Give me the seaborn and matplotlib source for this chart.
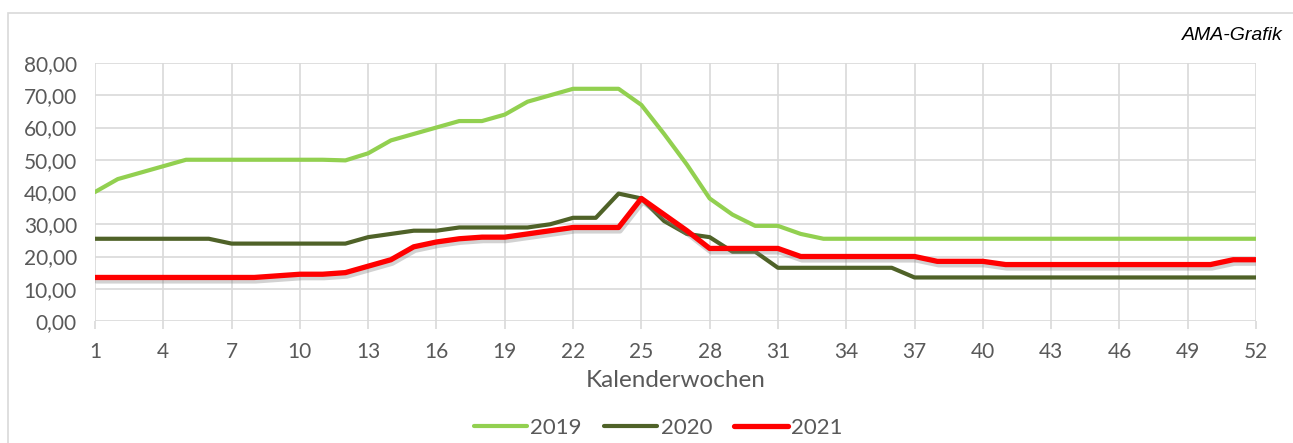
import matplotlib
matplotlib.use("Agg")
import matplotlib.pyplot as plt
import matplotlib.patheffects as pe
import seaborn as sns
import pandas as pd

weeks = list(range(1, 53))
y2019 = [40, 44, 46, 48, 50, 50, 50, 50, 50, 50, 50, 49.8, 52, 56, 58, 60, 62, 62, 64, 68,
         70, 72, 72, 72, 67, 58, 48.5, 38, 33, 29.5, 29.5, 27, 25.5, 25.5, 25.5, 25.5, 25.5, 25.5,
         25.5, 25.5, 25.5, 25.5, 25.5, 25.5, 25.5, 25.5, 25.5, 25.5, 25.5, 25.5, 25.5, 25.5]
y2020 = [25.5, 25.5, 25.5, 25.5, 25.5, 25.5, 24, 24, 24, 24, 24, 24, 26, 27, 28, 28, 29, 29, 29, 29,
         30, 32, 32, 39.5, 38, 31, 27, 26, 21.5, 21.5, 16.5, 16.5, 16.5, 16.5, 16.5, 16.5, 13.5, 13.5,
         13.5, 13.5, 13.5, 13.5, 13.5, 13.5, 13.5, 13.5, 13.5, 13.5, 13.5, 13.5, 13.5, 13.5]
y2021 = [13.5, 13.5, 13.5, 13.5, 13.5, 13.5, 13.5, 13.5, 14, 14.5, 14.5, 15, 17, 19, 23, 24.5, 25.5, 26, 26, 27,
         28, 29, 29, 29, 38, 33, 28, 22.5, 22.5, 22.5, 22.5, 20, 20, 20, 20, 20, 20, 18.5,
         18.5, 18.5, 17.5, 17.5, 17.5, 17.5, 17.5, 17.5, 17.5, 17.5, 17.5, 17.5, 19, 19]
series_names = ["2019", "2020", "2021"]
colors = {"2019": "#92D050", "2020": "#4F6228", "2021": "#FF0000"}
widths = {"2019": 3.0, "2020": 3.0, "2021": 3.8}

df = pd.DataFrame({"week": weeks * 3,
                   "value": y2019 + y2020 + y2021,
                   "year": sum([[n] * len(weeks) for n in series_names], [])})

sns.set_theme(style="white")
plt.rcParams['font.family'] = ['Lato', 'DejaVu Sans']

fig = plt.figure(figsize=(12.93, 4.43), dpi=100)
ax = fig.add_axes([95/1293, 1 - 321/443, (1256 - 95)/1293, (321 - 63)/443])

for n in series_names:
    sub = df[df["year"] == n]
    sns.lineplot(data=sub, x="week", y="value", ax=ax, color=colors[n],
                 linewidth=widths[n], label=n, solid_capstyle="round")
# soft shadow on red line
red_line = ax.lines[-1]
red_line.set_path_effects([pe.SimpleLineShadow(offset=(1, -2.5), shadow_color="#808080", alpha=0.35),
                           pe.Normal()])

ax.set_xlim(1, 52)
ax.set_ylim(0, 80)
ax.set_xticks(list(range(1, 53, 3)))
ax.set_yticks(list(range(0, 81, 10)))
ax.set_yticklabels([f"{v},00" for v in range(0, 81, 10)])
ax.grid(True, color="#d9d9d9", linewidth=1.2)
ax.set_axisbelow(True)
for s in ax.spines.values():
    s.set_visible(False)
ax.tick_params(axis="x", bottom=True, length=6, width=1.2, color="#d9d9d9",
               labelsize=15, labelcolor="#595959", pad=9)
ax.tick_params(axis="y", left=False, labelsize=15, labelcolor="#595959", pad=7)
ax.set_xlabel("Kalenderwochen", fontsize=17.5, color="#595959", labelpad=6)
ax.set_ylabel("")

leg = ax.legend(loc="center", bbox_to_anchor=(0.485, -0.415), ncol=3, frameon=False,
                fontsize=16, handlelength=2.4, columnspacing=1.0, handletextpad=0.15)
for t in leg.get_texts():
    t.set_color("#595959")
for h in leg.get_lines():
    h.set_path_effects([])
    h.set_solid_capstyle("round")

fig.text(1283/1293, 1 - 35/443, "AMA-Grafik", ha="right", va="center", style="italic",
         fontsize=14, family="Liberation Sans", color="black")

fig.patches.append(plt.Rectangle((8/1293, -0.01), 1.0, 1 - 13/443 + 0.01, transform=fig.transFigure,
                                 fill=False, edgecolor="#d9d9d9", linewidth=1.2))

fig.savefig("out.png", dpi=100)
